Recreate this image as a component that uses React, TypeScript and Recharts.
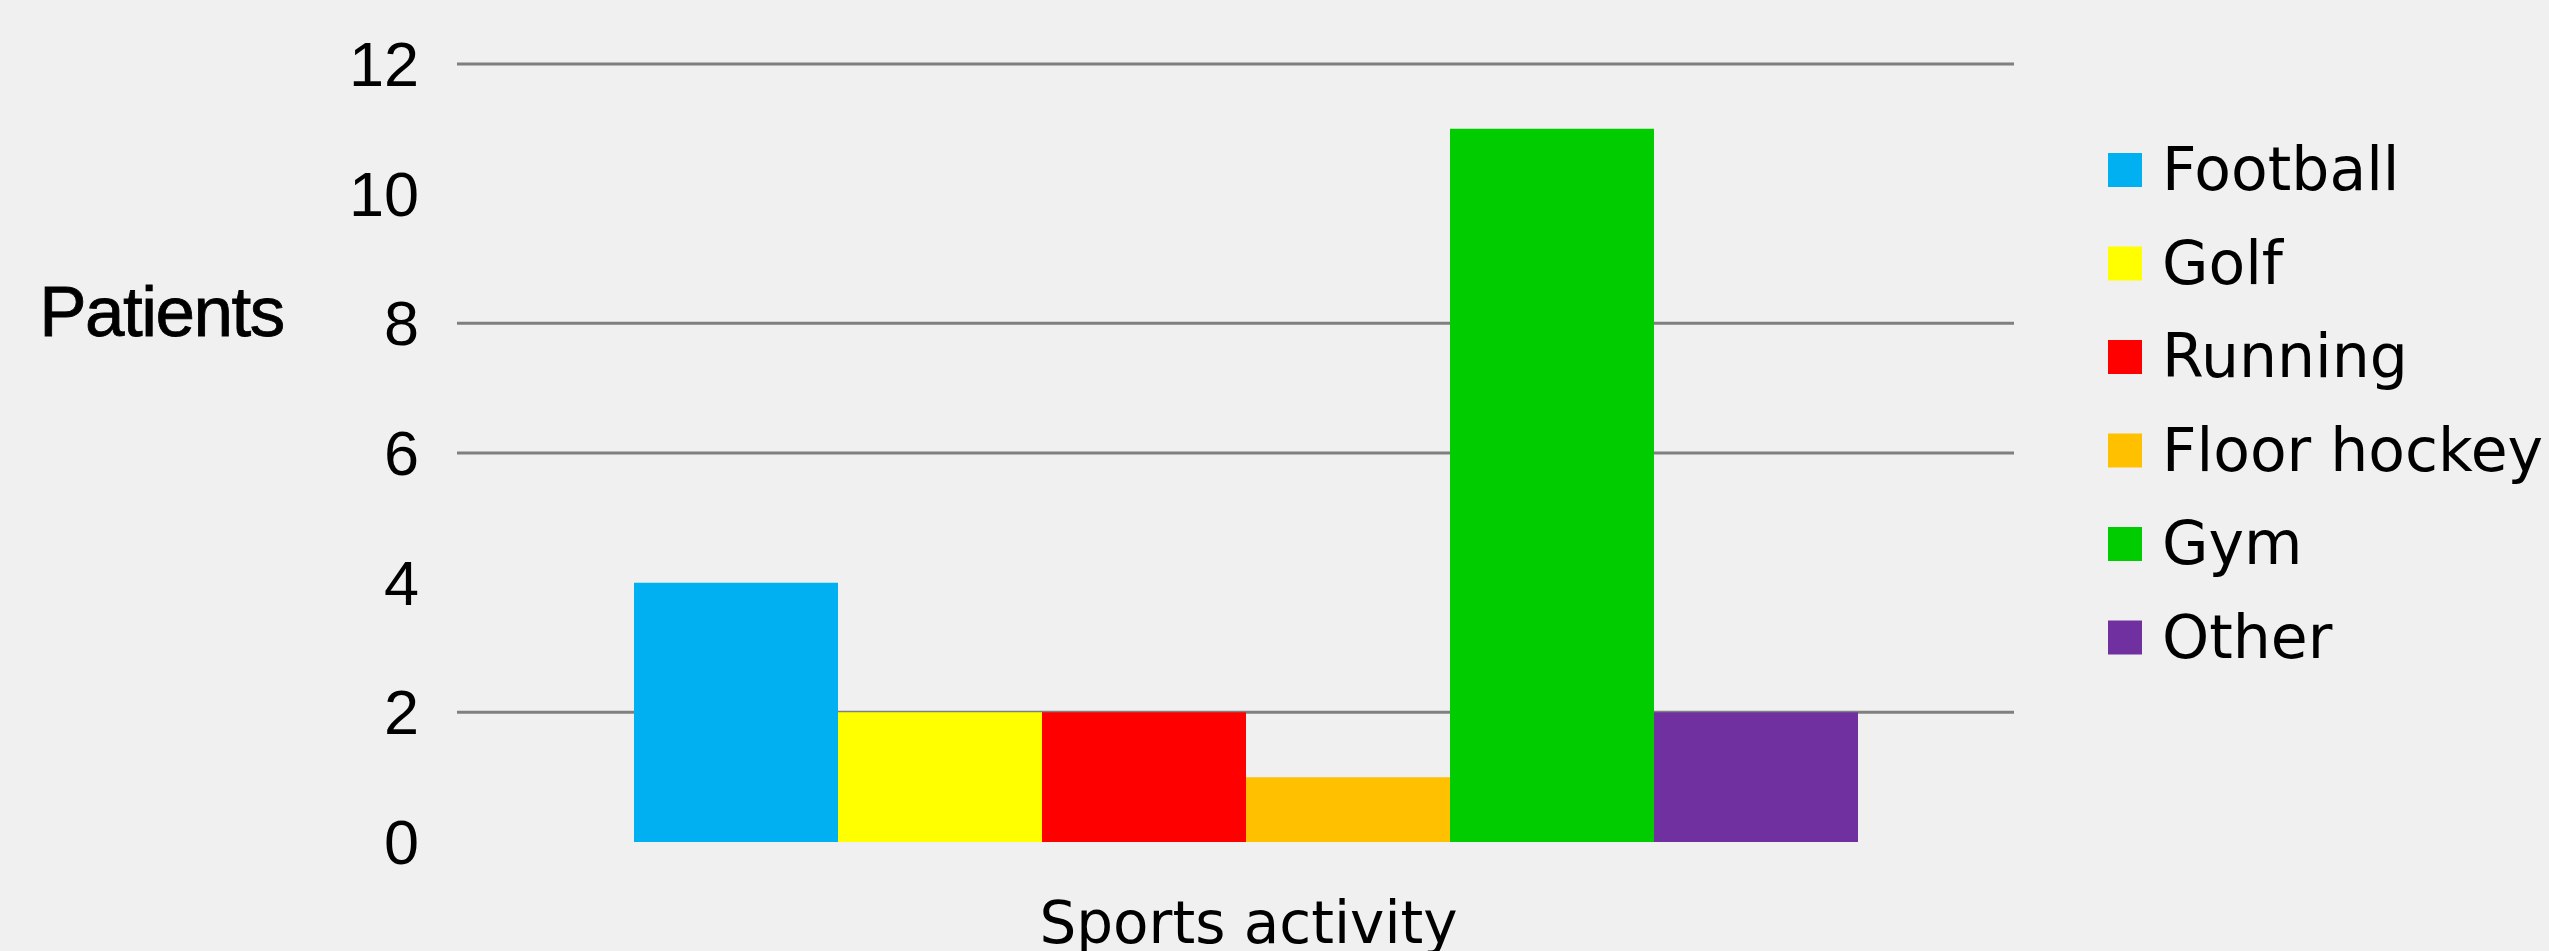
import React from 'react';
import { BarChart, Bar, XAxis, YAxis, CartesianGrid, Legend } from 'recharts';

const category = 'Sports activity';
const sports = ['Football', 'Golf', 'Running', 'Floor hockey', 'Gym', 'Other'];
const patients = [4, 2, 2, 1, 11, 2];
const colors = ['#00B0F0', '#FFFF00', '#FF0000', '#FFC000', '#00CC00', '#7030A0'];
const yTicks = [0, 2, 4, 6, 8, 10, 12];
const gridValues = [2, 6, 8, 12];

const row: Record<string, string | number> = { name: category };
sports.forEach((s, i) => {
  row[s] = patients[i];
});
const data = [row];

const YTick = (props: any) => {
  const { x, y, payload } = props;
  return (
    <text x={x} y={y} dy={22} textAnchor="end" fontFamily="'Liberation Sans', Arial, sans-serif" fontSize={63} fill="#000">
      {payload.value}
    </text>
  );
};

const YLabel = (props: any) => {
  const vb = props.viewBox || { x: 0 };
  return (
    <text
      x={vb.x + 161.5}
      y={336}
      textAnchor="middle"
      fontFamily="'Liberation Sans', Arial, sans-serif"
      fontSize={71}
      letterSpacing={-1.5}
      fill="#000"
      stroke="#000"
      strokeWidth={0.8}
    >
      Patients
    </text>
  );
};

const XLabel = (props: any) => {
  const vb = props.viewBox || { x: 0, y: 0, width: 0 };
  return (
    <text x={vb.x + vb.width / 2 + 13} y={vb.y + 101} textAnchor="middle" fontFamily="'DejaVu Sans', sans-serif" fontSize={58} fill="#000">
      {category}
    </text>
  );
};

const LegendContent = () => {
  const rowH = 93.5;
  const top = 30;
  return (
    <svg width={440} height={620} style={{ display: 'block', overflow: 'visible' }}>
      {sports.map((s, i) => {
        const cy = top + 17 + i * rowH;
        return (
          <g key={s}>
            <rect x={0} y={cy - 17} width={34} height={34} fill={colors[i]} />
            <text x={54} y={cy + 20} fontFamily="'DejaVu Sans', sans-serif" fontSize={60} fill="#000">
              {s}
            </text>
          </g>
        );
      })}
    </svg>
  );
};

export default function App() {
  return (
    <div style={{ position: 'absolute', left: 0, top: 0, width: 2549, height: 951, background: '#f0f0f0' }}>
      <BarChart
        width={2549}
        height={951}
        data={data}
        margin={{ top: 64, right: 535, bottom: 0, left: 0 }}
        barCategoryGap={156}
        barGap={0}
      >
        <CartesianGrid horizontal vertical={false} horizontalValues={gridValues} stroke="#7f7f7f" strokeWidth={3} />
        <XAxis
          dataKey="name"
          height={109}
          tick={false}
          tickLine={false}
          axisLine={false}
          padding={{ left: 21, right: 0 }}
          label={<XLabel />}
        />
        <YAxis
          width={457}
          domain={[0, 12]}
          ticks={yTicks}
          interval={0}
          tickSize={0}
          tickMargin={38}
          axisLine={false}
          tickLine={false}
          tick={<YTick />}
          label={<YLabel />}
        />
        <Legend
          layout="vertical"
          align="center"
          verticalAlign="middle"
          content={<LegendContent />}
          wrapperStyle={{ position: 'absolute', left: 2108, top: 123, width: 440, height: 620 }}
        />
        {sports.map((s, i) => (
          <Bar key={s} dataKey={s} fill={colors[i]} isAnimationActive={false} />
        ))}
      </BarChart>
    </div>
  );
}
